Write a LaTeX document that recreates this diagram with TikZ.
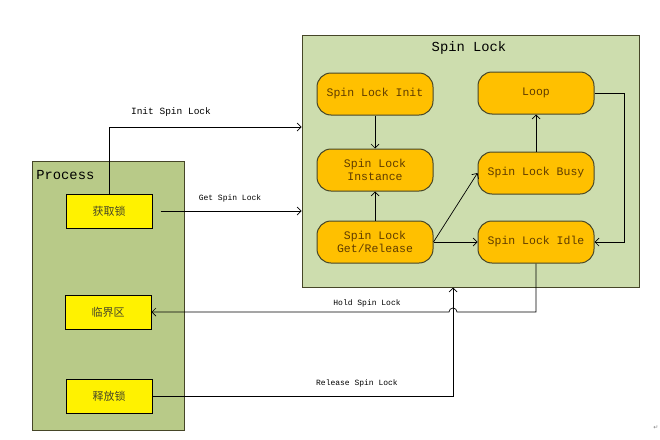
\documentclass[tikz,border=0pt]{standalone}
\usepackage{fontspec}
\setmainfont{Liberation Mono}
\newfontfamily\cjk{Noto Sans CJK SC}
\newfontfamily\symfont{DejaVu Sans}
\usetikzlibrary{positioning,arrows.meta}
\definecolor{procgreen}{RGB}{184,202,136}
\definecolor{lockgreen}{RGB}{205,221,174}
\definecolor{lockorange}{RGB}{255,192,0}
\definecolor{edgeolive}{RGB}{70,70,40}
\definecolor{txtbrown}{RGB}{95,60,0}
\begin{document}
\begin{tikzpicture}[
x=1pt,y=-1pt,
>={Straight Barb[length=4pt,width=8pt]},
every path/.style={line width=0.7pt},
groupbox/.style={rectangle, draw=edgeolive, line width=1pt},
statenode/.style={rectangle, rounded corners=14pt, draw=edgeolive, line width=1pt, fill=lockorange,
  minimum width=116pt, minimum height=42pt, align=center, text=txtbrown,
  font=\fontsize{11.5}{12.5}\selectfont},
stepnode/.style={rectangle, draw=black, line width=1pt, fill=yellow,
  minimum width=86pt, minimum height=34pt, font=\cjk\fontsize{11}{12}\selectfont, text=edgeolive},
msg/.style={font=\fontsize{8}{9}\selectfont, inner sep=1pt},
]
\useasboundingbox (0,0) rectangle (660,439);
%Groups
\node[groupbox, fill=lockgreen, minimum width=337pt, minimum height=252pt](spinlock) at (470.5,161){};
\node[font=\fontsize{13.8}{15}\selectfont](spintitle) at (469,48){Spin Lock};
\node[groupbox, fill=procgreen, minimum width=152pt, minimum height=269pt](process) at (108,295.5){};
\node[font=\fontsize{13.8}{15}\selectfont, anchor=west, inner sep=0pt](proctitle) at (36,175){Process};
%States
\node[statenode](init) at (375,94){Spin Lock Init};
\node[statenode](instance) at (375,170){Spin Lock\\Instance};
\node[statenode](getrel) at (375,242){Spin Lock\\Get/Release};
\node[statenode](loop) at (536,93){Loop};
\node[statenode](busy) at (536,173){Spin Lock Busy};
\node[statenode](idle) at (536,242){Spin Lock Idle};
%Steps
\node[stepnode](acquire) at (109,211){获取锁};
\node[stepnode](critical) at (108,312){临界区};
\node[stepnode](release) at (109,396){释放锁};

\draw[->](init.south) -- (instance.north);
\draw[->](getrel.north) -- (instance.south);
\draw[->](getrel.east) -- (busy.west);
\draw[->](getrel.east) -- (idle.west);
\draw[->](busy.north) -- (loop.south);
\draw[->](loop.east) -- ++(30,0) |- (idle.east);

\draw[->](acquire.north) |- (spinlock.west |- 0,127);
\draw[->,shorten <=8pt](acquire.east) -- (spinlock.west |- acquire.east);
\draw[->](idle.south) |- (457,312) arc[start angle=0,end angle=-180,radius=4] -- (critical.east);
\draw[->](release.east) -| (spinlock.south -| 453,0);

\node[msg, font=\fontsize{9.5}{10}\selectfont](initmsg) at (171,112){Init Spin Lock};
\node[msg](getmsg) at (230,198){Get Spin Lock};
\node[msg](holdmsg) at (367,303){Hold Spin Lock};
\node[msg](relmsg) at (357,383){Release Spin Lock};
\node[font=\symfont\fontsize{6}{6}\selectfont, text=gray](ret) at (656,428){↵};
\end{tikzpicture}
\end{document}
